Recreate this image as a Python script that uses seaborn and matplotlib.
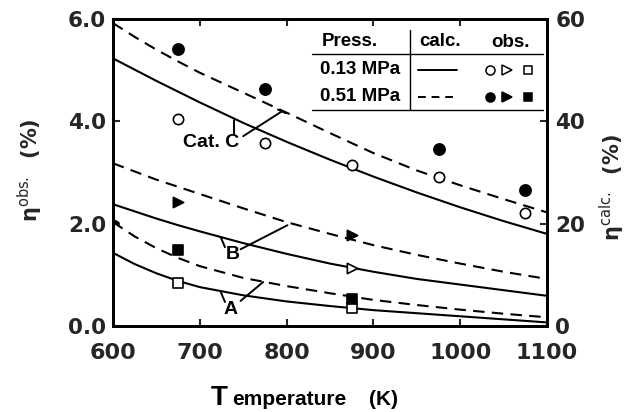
import matplotlib
matplotlib.use("Agg")
import matplotlib.pyplot as plt
import seaborn as sns
import numpy as np
import pandas as pd

# ---------------- data ----------------
temps = [600, 625, 650, 675, 700, 750, 800, 850, 900, 950, 1000, 1050, 1100]
calc_C_013 = [5.23, 5.01, 4.79, 4.58, 4.37, 3.97, 3.60, 3.25, 2.92, 2.61, 2.32, 2.05, 1.80]
calc_C_051 = [5.92, 5.65, 5.40, 5.17, 4.95, 4.56, 4.17, 3.77, 3.38, 3.04, 2.75, 2.48, 2.22]
calc_B_013 = [2.38, 2.24, 2.10, 1.97, 1.85, 1.62, 1.41, 1.22, 1.06, 0.92, 0.81, 0.70, 0.59]
calc_B_051 = [3.18, 3.02, 2.86, 2.72, 2.58, 2.30, 2.03, 1.80, 1.58, 1.39, 1.22, 1.06, 0.92]
calc_A_013 = [1.43, 1.21, 1.03, 0.88, 0.76, 0.60, 0.48, 0.39, 0.31, 0.25, 0.19, 0.13, 0.07]
calc_A_051 = [2.03, 1.75, 1.52, 1.33, 1.17, 0.94, 0.78, 0.64, 0.51, 0.41, 0.32, 0.24, 0.17]

obs_C_013_T = [675, 775, 875, 975, 1075]
obs_C_013 = [4.04, 3.57, 3.14, 2.91, 2.20]
obs_C_051_T = [675, 775, 975, 1075]
obs_C_051 = [5.41, 4.63, 3.46, 2.66]
obs_B_013_T = [875]
obs_B_013 = [1.13]
obs_B_051_T = [600, 675, 875]
obs_B_051 = [2.03, 2.42, 1.78]
obs_A_013_T = [675, 875]
obs_A_013 = [0.85, 0.36]
obs_A_051_T = [675, 875]
obs_A_051 = [1.49, 0.53]

x_ticks = [600, 700, 800, 900, 1000, 1100]
y_ticks_obs = [0.0, 2.0, 4.0, 6.0]
y_ticks_calc = [0, 20, 40, 60]

# ---------------- style ----------------
sns.set_theme(style="ticks")
plt.rcParams["font.family"] = ["DejaVu Sans"]
plt.rcParams["mathtext.fontset"] = "dejavusans"
plt.rcParams["mathtext.default"] = "bf"

fig = plt.figure(figsize=(6.35, 4.12), dpi=100)
fig.patch.set_facecolor("white")
ax = fig.add_axes([113/635, 1-326/412, 434/635, 307/412])
ax.set_facecolor("white")

SOLID = "-"
DASH = (0, (5.5, 3.5))
LW = 1.5

curves = [
    (calc_C_013, SOLID), (calc_C_051, DASH),
    (calc_B_013, SOLID), (calc_B_051, DASH),
    (calc_A_013, SOLID), (calc_A_051, DASH),
]
for vals, ls in curves:
    df = pd.DataFrame({"T": temps, "eta": vals})
    sns.lineplot(data=df, x="T", y="eta", color="black", linewidth=LW,
                 linestyle=ls, ax=ax, legend=False)

def pts(T, v, marker, filled, s):
    sns.scatterplot(x=T, y=v, marker=marker, s=s,
                    color=("black" if filled else "white"),
                    edgecolor="black", linewidth=1.2, ax=ax, zorder=5,
                    legend=False)

pts(obs_C_013_T, obs_C_013, "o", False, 55)
pts(obs_C_051_T, obs_C_051, "o", True, 65)
pts(obs_B_013_T, obs_B_013, ">", False, 55)
pts(obs_B_051_T, obs_B_051, ">", True, 55)
pts(obs_A_013_T, obs_A_013, "s", False, 45)
pts(obs_A_051_T, obs_A_051, "s", True, 45)

ax.set_xlim(600, 1100)
ax.set_ylim(0, 6)
ax.set_xticks(x_ticks)
ax.set_yticks(y_ticks_obs)
ax.set_xticklabels([str(t) for t in x_ticks], fontsize=16, fontweight="bold")
ax.set_yticklabels([f"{t:.1f}" for t in y_ticks_obs], fontsize=15.5, fontweight="bold")
ax.set_xlabel("")
ax.set_ylabel("")
ax.tick_params(axis="x", direction="in", length=5, width=1.5, pad=12,
               top=True, bottom=True)
ax.tick_params(axis="y", direction="in", length=5, width=1.5, pad=5,
               left=True, right=False)
for sp in ax.spines.values():
    sp.set_visible(True)
    sp.set_linewidth(2)
    sp.set_color("black")

ax2 = ax.twinx()
ax2.set_ylim(0, 60)
ax2.set_yticks(y_ticks_calc)
ax2.set_yticklabels([str(t) for t in y_ticks_calc], fontsize=15.5, fontweight="bold")
ax2.tick_params(axis="y", direction="in", length=5, width=1.5, pad=6)
for sp in ax2.spines.values():
    sp.set_linewidth(2)
    sp.set_color("black")

# ---------------- curve annotations ----------------
LBL = dict(family=["Liberation Sans", "DejaVu Sans"], fontweight="bold",
           ha="center", va="center", color="black")
ax.text(713, 3.59, "Cat. C", fontsize=14, **LBL)
ax.plot([739, 739], [4.02, 3.73], color="black", lw=1.4)
ax.plot([750, 795], [3.71, 4.20], color="black", lw=1.4)
ax.plot([790, 799], [4.23, 4.16], color="black", lw=1.4)

ax.text(738, 1.39, "B", fontsize=14, **LBL)
ax.plot([724, 729], [1.74, 1.54], color="black", lw=1.4)
ax.plot([747, 801], [1.50, 1.97], color="black", lw=1.4)

ax.text(735, 0.33, "A", fontsize=14, **LBL)
ax.plot([724, 729], [0.67, 0.47], color="black", lw=1.4)
ax.plot([747, 773], [0.49, 0.86], color="black", lw=1.4)

# ---------------- table-style legend ----------------
tr = ax.transAxes
TF = dict(family=["Liberation Sans", "DejaVu Sans"], fontweight="bold",
          va="center", color="black", transform=tr)
ax.plot([0.459, 0.991], [0.886, 0.886], color="black", lw=1.0, transform=tr, clip_on=False)
ax.plot([0.459, 0.991], [0.704, 0.704], color="black", lw=1.0, transform=tr, clip_on=False)
ax.plot([0.684, 0.684], [0.964, 0.704], color="black", lw=1.0, transform=tr, clip_on=False)
ax.text(0.546, 0.927, "Press.", fontsize=13.5, ha="center", **TF)
ax.text(0.753, 0.927, "calc.", fontsize=13.5, ha="center", **TF)
ax.text(0.915, 0.922, "obs.", fontsize=13.5, ha="center", **TF)
ax.text(0.569, 0.834, "0.13 MPa", fontsize=13.5, ha="center", **TF)
ax.text(0.569, 0.746, "0.51 MPa", fontsize=13.5, ha="center", **TF)
ax.plot([0.703, 0.793], [0.834, 0.834], color="black", lw=1.4, transform=tr)
ax.plot([0.703, 0.793], [0.746, 0.746], color="black", lw=1.4,
        linestyle=(0, (4, 3)), transform=tr)
for xm, mk, ms in [(0.869, "o", 6.5), (0.908, ">", 6.5), (0.956, "s", 5.5)]:
    ax.plot([xm], [0.834], marker=mk, ms=ms, mfc="white", mec="black", mew=1.1,
            transform=tr, linestyle="none")
    ax.plot([xm], [0.746], marker=mk, ms=ms, mfc="black", mec="black", mew=1.1,
            transform=tr, linestyle="none")

# ---------------- axis labels ----------------
fig.text(30/635, 1-170/412, r"$\eta^{\mathrm{obs.}}$  (%)", rotation=90,
         fontsize=15, fontweight="bold", ha="center", va="center")
fig.text(612/635, 1-188/412, r"$\eta^{\mathrm{calc.}}$  (%)", rotation=90,
         fontsize=15, fontweight="bold", ha="center", va="center")
XF = dict(family=["Liberation Sans", "DejaVu Sans"], fontweight="bold",
          va="baseline", ha="left", color="black")
fig.text(211/635, 1-405/412, "T", fontsize=20, **XF)
fig.text(232/635, 1-405/412, "emperature", fontsize=15, **XF)
fig.text(369/635, 1-405/412, "(K)", fontsize=15, **XF)

fig.savefig("out.png", dpi=100, facecolor="white")
